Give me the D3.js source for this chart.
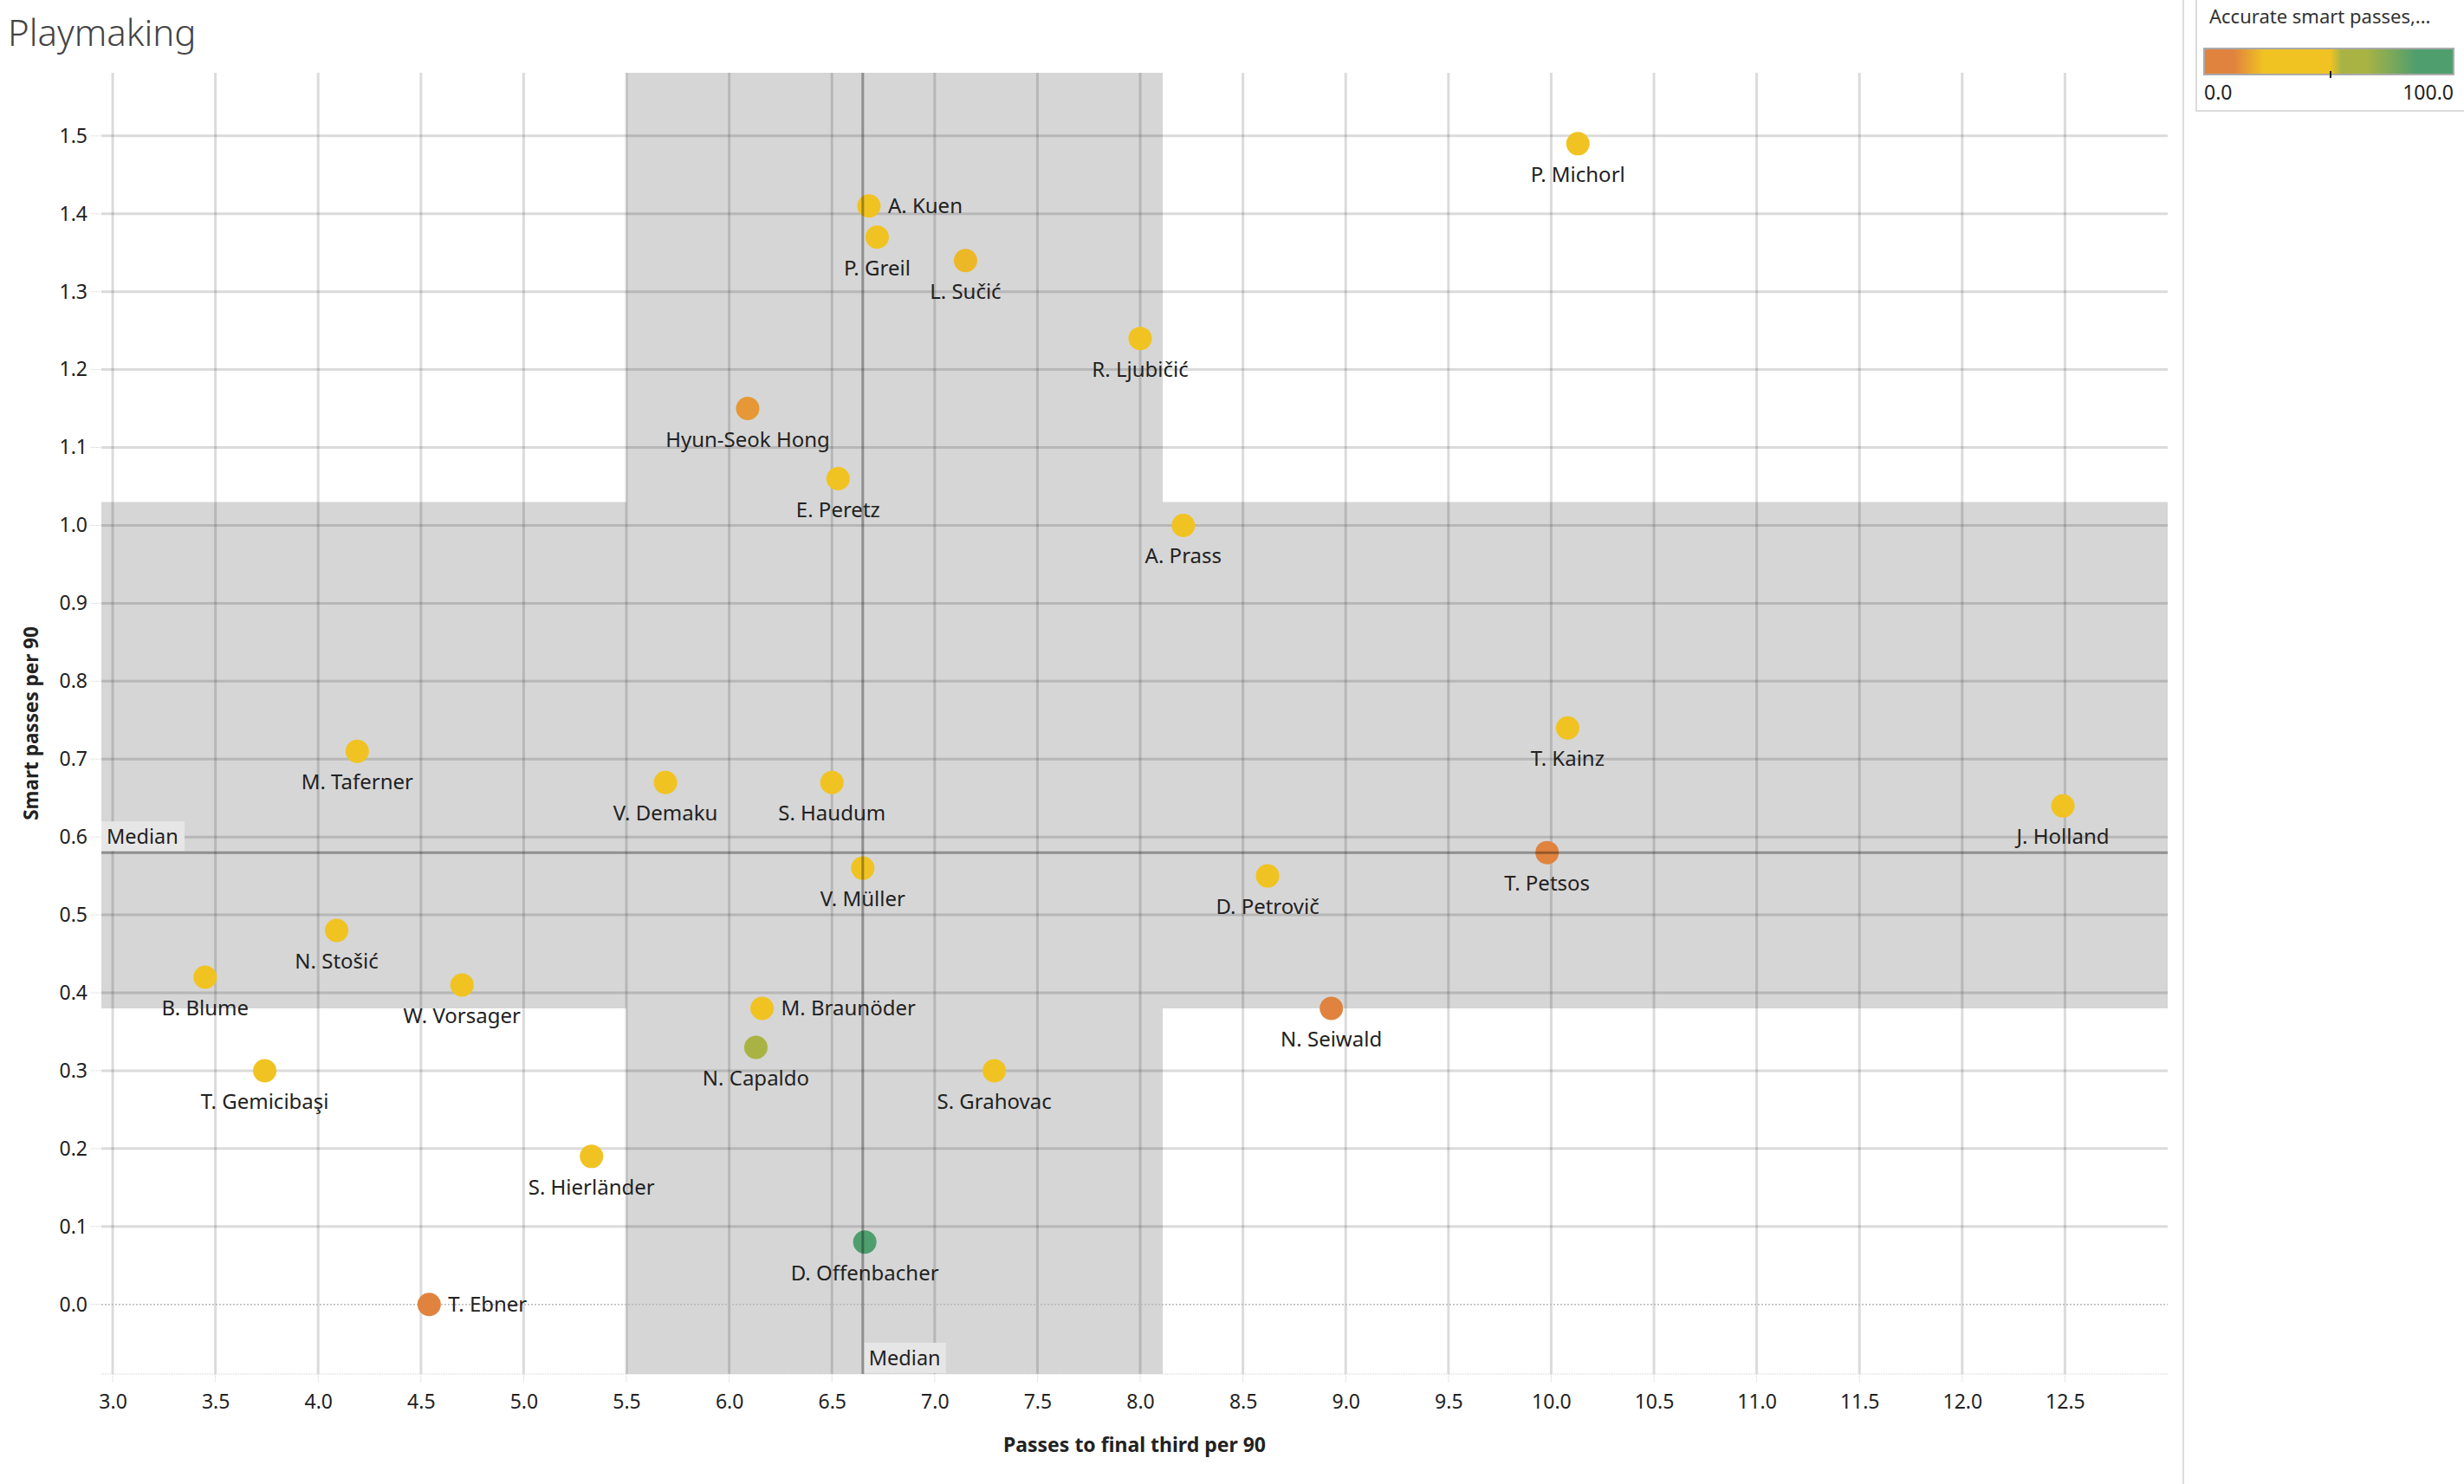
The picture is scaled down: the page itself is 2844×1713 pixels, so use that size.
<!DOCTYPE html>
<html lang="en">
<head>
<meta charset="UTF-8" />
<title>Playmaking</title>
<script src="https://cdn.jsdelivr.net/npm/d3@7"></script>
<style>
  body {
    margin: 0;
    background: #fff;
    font-family: "Noto Sans", Arial, sans-serif;
  }
</style>
</head>
<body>
<div id="chart"></div>
<script>
// data
const players = [
  "P. Michorl", "A. Kuen", "P. Greil", "L. Sučić", "R. Ljubičić", "Hyun-Seok Hong",
  "E. Peretz", "A. Prass", "M. Taferner", "V. Demaku", "S. Haudum", "T. Kainz",
  "J. Holland", "T. Petsos", "D. Petrovič", "V. Müller", "N. Stošić", "B. Blume",
  "W. Vorsager", "M. Braunöder", "N. Capaldo", "S. Grahovac", "T. Gemicibaşi",
  "S. Hierländer", "N. Seiwald", "D. Offenbacher", "T. Ebner"
];
const passesFinalThird = [
  10.13, 6.68, 6.72, 7.15, 8.0, 6.09,
  6.53, 8.21, 4.19, 5.69, 6.5, 10.08,
  12.49, 9.98, 8.62, 6.65, 4.09, 3.45,
  4.7, 6.16, 6.13, 7.29, 3.74,
  5.33, 8.93, 6.66, 4.54
];
const smartPasses = [
  1.49, 1.41, 1.37, 1.34, 1.24, 1.15,
  1.06, 1.0, 0.71, 0.67, 0.67, 0.74,
  0.64, 0.58, 0.55, 0.56, 0.48, 0.42,
  0.41, 0.38, 0.33, 0.30, 0.30,
  0.19, 0.38, 0.08, 0.0
];
const accuratePct = [
  40, 33.3, 42.9, 22, 38.5, 16,
  45, 36.4, 37.5, 40, 33.3, 42.9,
  44.4, 6, 40, 36.4, 40, 33.3,
  42.9, 37.5, 60, 40, 33.3,
  40, 10, 100, 0
];
const xTickValues = [3.0, 3.5, 4.0, 4.5, 5.0, 5.5, 6.0, 6.5, 7.0, 7.5, 8.0, 8.5, 9.0, 9.5, 10.0, 10.5, 11.0, 11.5, 12.0, 12.5];
const yTickValues = [0.0, 0.1, 0.2, 0.3, 0.4, 0.5, 0.6, 0.7, 0.8, 0.9, 1.0, 1.1, 1.2, 1.3, 1.4, 1.5];
const medianX = 6.65;
const medianY = 0.58;
const bandX = [5.5, 8.11];
const bandY = [0.38, 1.03];

// labels that sit to the right of the mark instead of below it
const rightLabels = new Set(["A. Kuen", "M. Braunöder", "T. Ebner"]);

const width = 2844, height = 1713;
const svg = d3.select("#chart").append("svg")
  .attr("width", width)
  .attr("height", height)
  .style("font-family", '"Noto Sans", Arial, sans-serif');

const x = d3.scaleLinear().domain([2.945, 13.0]).range([117, 2502]);
const y = d3.scaleLinear().domain([-0.0893, 1.581]).range([1586, 84]);
const [plotLeft, plotRight] = x.range();
const [plotBottom, plotTop] = y.range();

const color = d3.scaleLinear()
  .domain([0, 12, 24, 50.6, 55, 65, 85, 100])
  .range(["#e0833f", "#e0833f", "#f0c322", "#f0c322", "#a9b343", "#a9b343", "#4f9e6e", "#4f9e6e"]);

// title
svg.append("text")
  .attr("x", 9).attr("y", 53)
  .attr("font-size", 42).attr("font-weight", 300)
  .attr("fill", "#444")
  .text("Playmaking");

// shaded bands
const bands = svg.append("g").attr("fill", "#d6d6d6");
bands.append("rect")
  .attr("x", x(bandX[0])).attr("y", plotTop)
  .attr("width", x(bandX[1]) - x(bandX[0])).attr("height", plotBottom - plotTop);
bands.append("rect")
  .attr("x", plotLeft).attr("y", y(bandY[1]))
  .attr("width", plotRight - plotLeft).attr("height", y(bandY[0]) - y(bandY[1]));

// grid
const grid = svg.append("g").attr("stroke", "rgba(0,0,0,0.14)").attr("stroke-width", 3);
grid.selectAll(".vx").data(xTickValues).join("line")
  .attr("x1", d => x(d)).attr("x2", d => x(d))
  .attr("y1", plotTop).attr("y2", plotBottom);
grid.selectAll(".hy").data(yTickValues.filter(d => d > 0)).join("line")
  .attr("x1", plotLeft).attr("x2", plotRight)
  .attr("y1", d => y(d)).attr("y2", d => y(d));

// zero line and axis baseline
svg.append("line")
  .attr("x1", plotLeft).attr("x2", plotRight).attr("y1", y(0)).attr("y2", y(0))
  .attr("stroke", "#b8b8b8").attr("stroke-width", 1.5).attr("stroke-dasharray", "2,2");
svg.append("line")
  .attr("x1", plotLeft).attr("x2", plotRight).attr("y1", plotBottom).attr("y2", plotBottom)
  .attr("stroke", "#d0d0d0").attr("stroke-width", 1).attr("stroke-dasharray", "1,1");

// tick marks
const tickMarks = svg.append("g").attr("stroke", "#cfcfcf").attr("stroke-width", 1).attr("stroke-dasharray", "1,1");
tickMarks.selectAll(".tx").data(xTickValues).join("line")
  .attr("x1", d => x(d)).attr("x2", d => x(d)).attr("y1", plotBottom).attr("y2", plotBottom + 10);
tickMarks.selectAll(".ty").data(yTickValues).join("line")
  .attr("x1", plotLeft - 12).attr("x2", plotLeft).attr("y1", d => y(d)).attr("y2", d => y(d));

// axes text
const xAxis = svg.append("g")
  .attr("transform", `translate(0,${plotBottom})`)
  .call(d3.axisBottom(x).tickValues(xTickValues).tickFormat(d3.format(".1f")).tickSize(0).tickPadding(24));
const yAxis = svg.append("g")
  .attr("transform", `translate(${plotLeft},0)`)
  .call(d3.axisLeft(y).tickValues(yTickValues).tickFormat(d3.format(".1f")).tickSize(0).tickPadding(16));
[xAxis, yAxis].forEach(g => {
  g.select(".domain").remove();
  g.selectAll("text")
    .attr("font-size", 23)
    .attr("fill", "#222")
    .style("font-family", '"Noto Sans", Arial, sans-serif');
});

svg.append("text")
  .attr("x", (plotLeft + plotRight) / 2).attr("y", 1676)
  .attr("text-anchor", "middle")
  .attr("font-size", 23).attr("font-weight", 700).attr("fill", "#222")
  .text("Passes to final third per 90");
svg.append("text")
  .attr("transform", `translate(44,${(plotTop + plotBottom) / 2}) rotate(-90)`)
  .attr("text-anchor", "middle")
  .attr("font-size", 22.5).attr("font-weight", 700).attr("fill", "#222")
  .text("Smart passes per 90");

// points
const data = players.map((name, i) => ({
  name,
  px: passesFinalThird[i],
  sp: smartPasses[i],
  acc: accuratePct[i]
}));

svg.append("g").selectAll("circle").data(data).join("circle")
  .attr("cx", d => x(d.px))
  .attr("cy", d => y(d.sp))
  .attr("r", 13.5)
  .attr("fill", d => color(d.acc));

// median reference lines
const med = svg.append("g").attr("stroke", "rgba(0,0,0,0.33)").attr("stroke-width", 3);
med.append("line")
  .attr("x1", x(medianX)).attr("x2", x(medianX)).attr("y1", plotTop).attr("y2", plotBottom);
med.append("line")
  .attr("x1", plotLeft).attr("x2", plotRight).attr("y1", y(medianY)).attr("y2", y(medianY));

svg.append("rect")
  .attr("x", plotLeft).attr("y", y(medianY) - 36).attr("width", 96).attr("height", 34)
  .attr("fill", "#e6e6e6");
svg.append("text")
  .attr("x", plotLeft + 6).attr("y", y(medianY) - 10)
  .attr("font-size", 23.5).attr("fill", "#222").text("Median");
svg.append("rect")
  .attr("x", x(medianX) + 2).attr("y", plotBottom - 36).attr("width", 94).attr("height", 35)
  .attr("fill", "#e6e6e6");
svg.append("text")
  .attr("x", x(medianX) + 7).attr("y", plotBottom - 10)
  .attr("font-size", 23.5).attr("fill", "#222").text("Median");

// point labels
svg.append("g").selectAll("text").data(data).join("text")
  .attr("x", d => rightLabels.has(d.name) ? x(d.px) + 22 : x(d.px))
  .attr("y", d => rightLabels.has(d.name) ? y(d.sp) + 8 : y(d.sp) + 44)
  .attr("text-anchor", d => rightLabels.has(d.name) ? "start" : "middle")
  .attr("font-size", 24)
  .attr("fill", "#222")
  .text(d => d.name);

// right pane separator
svg.append("line")
  .attr("x1", 2520).attr("x2", 2520).attr("y1", 0).attr("y2", height)
  .attr("stroke", "#dcdcdc").attr("stroke-width", 2);

// legend
const legend = svg.append("g");
legend.append("rect")
  .attr("x", 2535).attr("y", -4).attr("width", 330).attr("height", 132)
  .attr("fill", "#fff").attr("stroke", "#dcdcdc").attr("stroke-width", 2);
legend.append("text")
  .attr("x", 2550).attr("y", 27)
  .attr("font-size", 22).attr("fill", "#333")
  .text("Accurate smart passes,...");

const grad = svg.append("defs").append("linearGradient").attr("id", "accGrad");
const stops = color.domain();
grad.selectAll("stop").data(stops).join("stop")
  .attr("offset", d => `${d}%`)
  .attr("stop-color", d => color(d));

const legendScale = d3.scaleLinear().domain([0, 100]).range([2544, 2832]);
legend.append("rect")
  .attr("x", legendScale(0)).attr("y", 56)
  .attr("width", legendScale(100) - legendScale(0)).attr("height", 30)
  .attr("fill", "url(#accGrad)")
  .attr("stroke", "#aaa").attr("stroke-width", 2);
legend.append("line")
  .attr("x1", legendScale(50.7)).attr("x2", legendScale(50.7))
  .attr("y1", 82).attr("y2", 90)
  .attr("stroke", "#222").attr("stroke-width", 2);
legend.append("text")
  .attr("x", legendScale(0)).attr("y", 115)
  .attr("font-size", 23).attr("fill", "#222").text("0.0");
legend.append("text")
  .attr("x", legendScale(100)).attr("y", 115).attr("text-anchor", "end")
  .attr("font-size", 23).attr("fill", "#222").text("100.0");
</script>
</body>
</html>
